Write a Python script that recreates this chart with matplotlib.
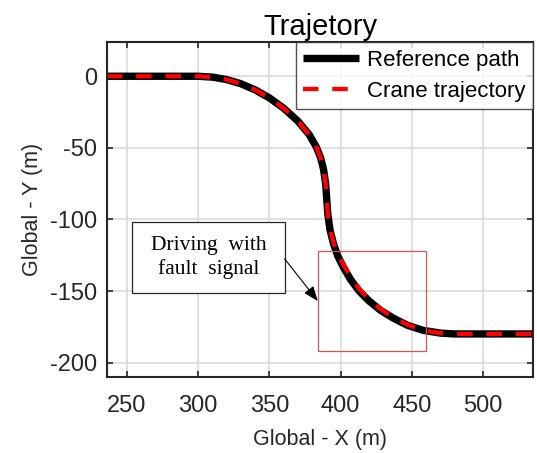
import matplotlib.pyplot as plt
from matplotlib.patches import Rectangle

# reference path
ref_x = [236, 260, 290, 300, 310, 320, 330, 340, 350, 360, 370, 378, 383, 386,
         388, 389.5, 390.2, 391, 392.5, 395, 398, 402, 407, 413, 420, 428, 437,
         447, 458, 470, 480, 500, 520, 535]
ref_y = [0, 0, 0, 0, -0.6, -2.3, -5.2, -9.5, -15.1, -22.3, -31.3, -40.8, -49.5,
         -57, -65, -75, -85, -96, -107, -117, -125.5, -133.5, -142, -150, -157,
         -163.5, -169, -174, -177.5, -179.4, -180, -180, -180, -180]

# crane trajectory (almost on top of the reference)
crane_x = [236, 260, 290, 300, 310, 320, 330, 340, 350, 360, 370, 378, 383, 386,
           388, 389.5, 390.2, 391, 392.5, 395, 398, 402, 407, 413, 420, 428, 437,
           447, 458, 470, 480, 500, 520, 535]
crane_y = [0, 0, 0, 0, -0.6, -2.3, -5.2, -9.5, -15.1, -22.3, -31.3, -40.8, -49.5,
           -57, -65, -75, -85, -96, -106.5, -116, -124, -131.5, -140, -148.5, -156,
           -162.5, -168.5, -173.5, -177.5, -179.4, -180, -180, -180, -180]

x_ticks = [250, 300, 350, 400, 450, 500]
y_ticks = [0, -50, -100, -150, -200]

plt.rcParams['font.family'] = ['Liberation Sans', 'DejaVu Sans']
plt.rcParams['axes.unicode_minus'] = False

fig = plt.figure(figsize=(5.37, 4.53), dpi=100)
ax = fig.add_axes([0.199, 0.168, 0.7936, 0.7395])

ax.plot(ref_x, ref_y, color='black', lw=5.3, label='Reference path',
        solid_capstyle='butt')
ax.plot(crane_x, crane_y, color='#ff0000', lw=3.1, ls=(0, (3.6, 3.2)),
        label='Crane trajectory')

ax.set_xlim(236, 535)
ax.set_ylim(-210, 24)
ax.set_xticks(x_ticks)
ax.set_yticks(y_ticks)
ax.grid(True, color='#dadada', lw=1.2)
ax.set_axisbelow(True)
ax.tick_params(direction='in', top=True, right=True, length=4, width=1.2,
               labelsize=17, colors='#262626')
ax.tick_params(axis='x', pad=13)
ax.tick_params(axis='y', pad=7)
for s in ax.spines.values():
    s.set_linewidth(1.5)
    s.set_color('#262626')

ax.set_xlabel('Global - X (m)', fontsize=15.5, color='#262626', labelpad=9)
ax.set_ylabel('Global - Y (m)', fontsize=15.5, color='#262626', labelpad=5)
ax.set_title('Trajetory', fontsize=21, color='black', pad=5)

leg = ax.legend(loc='upper right', fontsize=16, frameon=True, fancybox=False,
                borderaxespad=0, handlelength=2.5, handletextpad=0.35,
                borderpad=0.35, labelspacing=0.45)
leg.get_frame().set_edgecolor('#262626')
leg.get_frame().set_linewidth(1.0)

# fault-signal region
ax.add_patch(Rectangle((384, -192), 76, 70, fill=False, edgecolor='#d9534f',
                       lw=0.9, zorder=5))

# text box with arrow
ax.add_patch(Rectangle((253.7, -151.2), 107, 49.2, fill=True, facecolor='white',
                       edgecolor='#262626', lw=0.9, zorder=5))
ax.text(307.2, -126.6, 'Driving  with\nfault  signal', ha='center', va='center',
        fontsize=15.5, family=['Liberation Serif', 'DejaVu Serif'],
        linespacing=1.3, zorder=6)
ax.annotate('', xy=(384, -157), xytext=(360.7, -127.5),
            arrowprops=dict(arrowstyle='-|>,head_length=0.9,head_width=0.35',
                            color='black', lw=0.8, shrinkA=0, shrinkB=0),
            zorder=6)

fig.savefig('out.png', dpi=100)
